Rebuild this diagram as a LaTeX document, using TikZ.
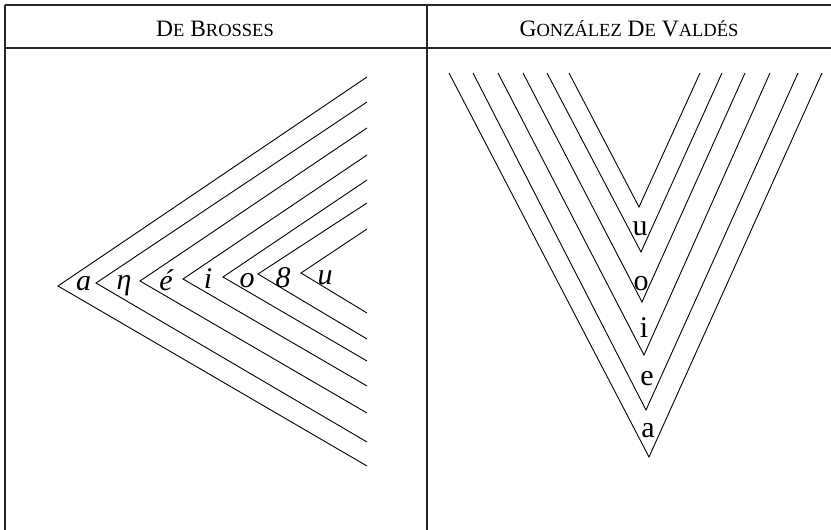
\documentclass[tikz,border=0pt]{standalone}
\usepackage{fontspec}
\setmainfont{Liberation Serif}
\newcommand{\scsz}{\fontsize{18.5}{18.5}\selectfont}
\begin{document}
\begin{tikzpicture}[x=1pt,y=-1pt,
  rule/.style={line width=1.1pt,draw=black!85},
  chev/.style={line width=0.9pt,line join=miter},
  head/.style={anchor=base,inner sep=0pt,font=\fontsize{23.5}{23.5}\selectfont},
  vowit/.style={anchor=base,inner sep=0pt,font=\fontsize{30}{30}\selectfont\itshape},
  vowup/.style={anchor=base,inner sep=0pt,font=\fontsize{30}{30}\selectfont}]
\useasboundingbox (0,0) rectangle (831,530);
% table rules
\coordinate (tl) at (5,5); \coordinate (tr) at (831,5);
\coordinate (hl) at (5,48); \coordinate (hr) at (831,48);
\coordinate (bl) at (5,530); \coordinate (mt) at (427,5); \coordinate (mb) at (427,530);
\draw[rule] (tl) -- (tr);
\draw[rule] (hl) -- (hr);
\draw[rule] (tl) -- (bl);
\draw[rule] (mt) -- (mb);
% headers
\node[head] (h1) at (215,36) {D{\scsz E} B{\scsz ROSSES}};
\node[head] (h2) at (629,36) {G{\scsz ONZÁLEZ} D{\scsz E} V{\scsz ALDÉS}};
% left chevrons (De Brosses)
\foreach \vx/\vy/\uy/\ly [count=\k] in {58/286/77/466, 96/283/102/442, 140/281/128/413, 183/279/155/386, 223/277/180/361, 258/274/203/339, 301/273/229/313}{
  \coordinate (lu\k) at (367,\uy);
  \coordinate (lv\k) at (\vx,\vy);
  \coordinate (ll\k) at (367,\ly);
  \draw[chev] (lu\k) -- (lv\k) -- (ll\k);
}
\node[vowit] (la) at (83.5,290) {a};
\node[vowit] (leta) at (124,289) {η};
\node[vowit] (le) at (166,290) {é};
\node[vowit] (li) at (208,288) {i};
\node[vowit] (lo) at (247,287) {o};
\node[vowit] (l8) at (283,287) {8};
\node[vowit] (lu) at (325,284) {u};
% right chevrons (Gonzalez de Valdes)
\foreach \lx/\vx/\vy/\rx [count=\k] in {449/649/457/822, 473/646/410/798, 498/644/355/770, 523/642/302/745, 547/641/252/722, 569/639/207/700}{
  \coordinate (rl\k) at (\lx,73);
  \coordinate (rv\k) at (\vx,\vy);
  \coordinate (rr\k) at (\rx,73);
  \draw[chev] (rl\k) -- (rv\k) -- (rr\k);
}
\node[vowup] (ru) at (640,235) {u};
\node[vowup] (ro) at (641,290) {o};
\node[vowup] (ri) at (644,337) {i};
\node[vowup] (re) at (647,385) {e};
\node[vowup] (ra) at (648,437) {a};
\end{tikzpicture}
\end{document}
